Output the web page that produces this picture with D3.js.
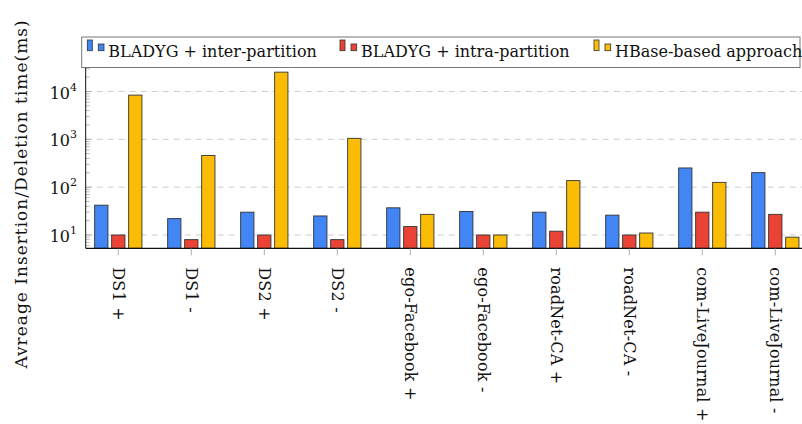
<!DOCTYPE html>
<html>
<head>
<meta charset="utf-8">
<script src="https://cdn.jsdelivr.net/npm/d3@7"></script>
<style>
  body { margin: 0; background: #fff; }
  text { font-family: "DejaVu Serif", serif; fill: #111; }
</style>
</head>
<body>
<svg id="chart"></svg>
<script>
const svgWidth = 802, svgHeight = 424;

// data
const categories = ["DS1 +", "DS1 -", "DS2 +", "DS2 -", "ego-Facebook +", "ego-Facebook -",
                    "roadNet-CA +", "roadNet-CA -", "com-LiveJournal +", "com-LiveJournal -"];
const seriesNames = ["BLADYG + inter-partition", "BLADYG + intra-partition", "HBase-based approach"];
const interValues = [42, 22, 30, 25, 37, 31, 30, 26, 252, 201];
const intraValues = [10, 8, 10, 8, 15, 10, 12, 10, 30, 27];
const hbaseValues = [8400, 460, 25400, 1050, 27, 10, 137, 11, 126, 9];
const yTicks = [10, 100, 1000, 10000];
const colors = ["#4285F4", "#EA4335", "#FBBC05"];

const series = [interValues, intraValues, hbaseValues];

const plot = {left: 85.7, right: 808.3, top: 68, bottom: 248.3};
const fontSize = 16;

const chart = d3.select("#chart")
    .attr("width", svgWidth)
    .attr("height", svgHeight);

// scales
var xScale = d3.scalePoint().domain(categories).range([118.3, 775.3]);
var xInner = d3.scaleBand().domain(d3.range(series.length)).range([-23.65, 23.65]).paddingInner(0.218);
var yScale = d3.scaleLog().domain([5.27, 31000]).range([plot.bottom, plot.top]);

// dashed grid at decades
chart.append("g")
    .selectAll("line")
    .data(yTicks)
    .enter()
    .append("line")
    .attr("x1", plot.left).attr("x2", plot.right)
    .attr("y1", d => yScale(d)).attr("y2", d => yScale(d))
    .attr("stroke", "#c8c8c8")
    .attr("stroke-width", 0.9)
    .attr("stroke-dasharray", "6,5");

// minor log ticks on the left, inside
var minor = [];
for (let e = 0; e <= 4; e++) {
    for (let m = 1; m <= 9; m++) {
        let v = m * Math.pow(10, e);
        if (v >= 5.27 && v <= 31000) minor.push(v);
    }
}
chart.append("g")
    .selectAll("line")
    .data(minor)
    .enter()
    .append("line")
    .attr("x1", plot.left).attr("x2", d => plot.left + (yTicks.indexOf(d) >= 0 ? 6 : 4))
    .attr("y1", d => yScale(d)).attr("y2", d => yScale(d))
    .attr("stroke", "#999")
    .attr("stroke-width", 0.7);

// bars
series.forEach(function(values, s) {
    chart.append("g")
        .selectAll("rect")
        .data(values)
        .enter()
        .append("rect")
        .attr("x", (d, i) => xScale(categories[i]) + xInner(s))
        .attr("y", d => yScale(d))
        .attr("width", xInner.bandwidth())
        .attr("height", d => plot.bottom - yScale(d))
        .attr("fill", colors[s])
        .attr("stroke", "#333")
        .attr("stroke-width", 0.9);
});

// axis lines
chart.append("line")
    .attr("x1", plot.left).attr("x2", plot.left)
    .attr("y1", plot.top - 2).attr("y2", plot.bottom)
    .attr("stroke", "#111").attr("stroke-width", 1);
chart.append("line")
    .attr("x1", plot.left).attr("x2", svgWidth)
    .attr("y1", plot.bottom).attr("y2", plot.bottom)
    .attr("stroke", "#111").attr("stroke-width", 1.2);

// x ticks + rotated labels
var xg = chart.append("g");
xg.selectAll("line")
    .data(categories)
    .enter()
    .append("line")
    .attr("x1", d => xScale(d)).attr("x2", d => xScale(d))
    .attr("y1", plot.bottom).attr("y2", plot.bottom + 7)
    .attr("stroke", "#999").attr("stroke-width", 0.8);
xg.selectAll("text")
    .data(categories)
    .enter()
    .append("text")
    .attr("transform", d => "translate(" + xScale(d) + "," + (plot.bottom + 19) + ") rotate(90)")
    .attr("dy", "0.32em")
    .style("font-size", fontSize + "px")
    .style("letter-spacing", "0.2px")
    .text(d => d);

// y tick labels 10^n
var yl = chart.append("g")
    .selectAll("text")
    .data(yTicks)
    .enter()
    .append("text")
    .attr("x", 77)
    .attr("y", d => yScale(d) + 7)
    .attr("text-anchor", "end")
    .style("font-size", "16px");
yl.append("tspan").text("10");
yl.append("tspan")
    .attr("dy", -8)
    .style("font-size", "11px")
    .text(d => Math.round(Math.log10(d)));

// y axis title
chart.append("text")
    .attr("transform", "translate(22,194) rotate(-90)")
    .attr("text-anchor", "middle")
    .attr("dy", "0.32em")
    .style("font-size", "17px")
    .style("letter-spacing", "1px")
    .text("Avreage Insertion/Deletion time(ms)");

// legend
var legend = chart.append("g");
legend.append("rect")
    .attr("x", 81.7).attr("y", 37)
    .attr("width", 800 - 81.7).attr("height", 30.5)
    .attr("fill", "#fff")
    .attr("stroke", "#777").attr("stroke-width", 1);
const legendX = [87.3, 340, 594];
seriesNames.forEach(function(name, s) {
    var g = legend.append("g").attr("transform", "translate(" + legendX[s] + ",0)");
    g.append("rect").attr("x", 0).attr("y", 40).attr("width", 5).attr("height", 10.7)
        .attr("fill", colors[s]).attr("stroke", "#333").attr("stroke-width", 0.8);
    g.append("rect").attr("x", 11).attr("y", 44).attr("width", 5.7).attr("height", 6.7)
        .attr("fill", colors[s]).attr("stroke", "#333").attr("stroke-width", 0.8);
    g.append("text").attr("x", 21).attr("y", 51.5)
        .attr("dy", "0.32em")
        .style("font-size", fontSize + "px")
        .text(name);
});
</script>
</body>
</html>
